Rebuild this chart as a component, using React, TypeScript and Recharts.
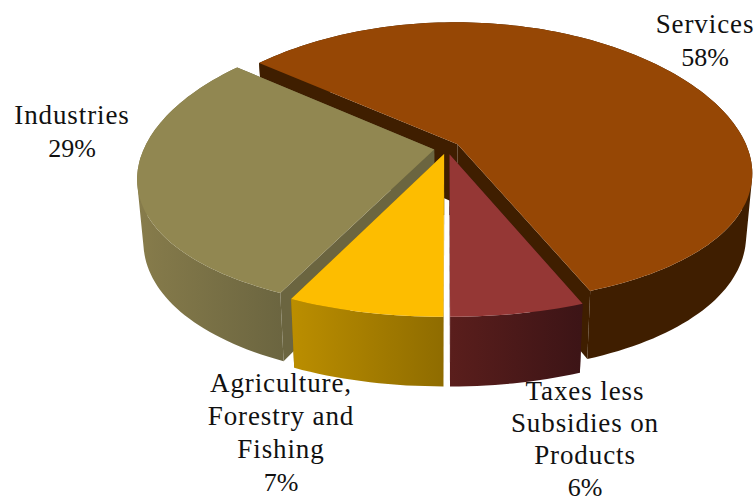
import { PieChart, Pie } from "recharts";

// drawn back to front, so the slices run counter-clockwise from Services
const names = ["Services", "Industries", "Agriculture, Forestry and Fishing", "Taxes less Subsidies on Products"];
const shares = [58, 29, 7, 6];

const topColors = ["#964705", "#918751", "#fdbd00", "#953735"];
const wallLeftColors = ["#3f1e00", "#877c4b", "#bb8e00", "#5a1e1c"];
const wallRightColors = ["#3f1e00", "#6b6540", "#8f6c00", "#3c1416"];
const cutColors = ["#3f1e00", "#6b6540", "#8f6c00", "#3c1416"];

const labelLines = [
  ["Services"],
  ["Industries"],
  ["Agriculture,", "Forestry and", "Fishing"],
  ["Taxes less", "Subsidies on", "Products"],
];
const labelCenterX = [705, 72, 281, 585];
const labelFirstBaseline = [33, 124, 392, 400];
const labelLeading = [33, 33, 33, 32];

const slices = names.map((name, i) => ({ name, value: shares[i] }));

// tilt and perspective of the disc
const SQUASH = 0.48;
const NEAR_X = 0.2;
const NEAR_Y = 0.133;
const EXPLODE = 0.045;
const DEPTH = 60;
const DEPTH_TAPER = 0.98;

type Pt = [number, number];

function makeProjector(cx: number, cy: number, radius: number, midAngle: number) {
  const rad = Math.PI / 180;
  const du = EXPLODE * Math.cos(midAngle * rad);
  const dv = -EXPLODE * Math.sin(midAngle * rad);
  const flat = (u: number, v: number, low: boolean): Pt => {
    const sx = 1 / (1 - NEAR_X * v);
    const sy = 1 / (1 - NEAR_Y * v);
    const x = radius * u * sx;
    const y = radius * SQUASH * v * sy;
    if (!low) return [cx + x, cy + y];
    return [cx + x * DEPTH_TAPER, cy + y + DEPTH * sy];
  };
  return {
    rim: (deg: number, low = false) =>
      flat(Math.cos(deg * rad) + du, -Math.sin(deg * rad) + dv, low),
    apex: (low = false) => flat(du, dv, low),
  };
}

const toPath = (pts: Pt[]) =>
  "M" + pts.map((p) => `${p[0].toFixed(1)},${p[1].toFixed(1)}`).join("L") + "Z";

// every strip wound the same way, so overlaps at the silhouette don't cancel
function stripPath(a: Pt, b: Pt, c: Pt, d: Pt) {
  const area =
    (b[0] - a[0]) * (c[1] - a[1]) - (c[0] - a[0]) * (b[1] - a[1]) +
    (c[0] - a[0]) * (d[1] - a[1]) - (d[0] - a[0]) * (c[1] - a[1]);
  return toPath(area >= 0 ? [a, b, c, d] : [d, c, b, a]);
}

function Wedge(props: any) {
  const { cx, cy, outerRadius, startAngle, endAngle, index } = props;
  const i = index ?? names.indexOf(props.name);
  const mid = (startAngle + endAngle) / 2;
  const proj = makeProjector(cx, cy, outerRadius, mid);

  const steps = Math.max(8, Math.ceil(Math.abs(endAngle - startAngle) / 1.5));
  const arcTop: Pt[] = [];
  const arcLow: Pt[] = [];
  for (let s = 0; s <= steps; s++) {
    const a = startAngle + ((endAngle - startAngle) * s) / steps;
    arcTop.push(proj.rim(a));
    arcLow.push(proj.rim(a, true));
  }

  let wall = "";
  for (let s = 0; s < steps; s++) {
    wall += stripPath(arcTop[s], arcTop[s + 1], arcLow[s + 1], arcLow[s]);
  }

  const xs = arcTop.concat(arcLow).map((p) => p[0]);
  const gradientId = `wall-${i}`;
  const quad = (deg: number) =>
    toPath([proj.apex(), proj.rim(deg), proj.rim(deg, true), proj.apex(true)]);

  return (
    <g>
      <defs>
        <linearGradient
          id={gradientId}
          gradientUnits="userSpaceOnUse"
          x1={Math.min(...xs)}
          x2={Math.max(...xs)}
          y1={0}
          y2={0}
        >
          <stop offset="0" stopColor={wallLeftColors[i]} />
          <stop offset="1" stopColor={wallRightColors[i]} />
        </linearGradient>
      </defs>
      <path d={quad(startAngle)} fill={cutColors[i]} />
      <path d={quad(endAngle)} fill={cutColors[i]} />
      <path d={wall} fill={`url(#${gradientId})`} />
      <path d={toPath([proj.apex(), ...arcTop])} fill={topColors[i]} />
    </g>
  );
}

function SliceLabel(props: any) {
  const i = props.index;
  const x = labelCenterX[i];
  const y = labelFirstBaseline[i];
  const lead = labelLeading[i];
  return (
    <text textAnchor="middle" fontFamily="'Liberation Serif', serif" fill="#111">
      {labelLines[i].map((line, n) => (
        <tspan key={n} x={x} y={y + n * lead} fontSize={27} letterSpacing={0.9}>
          {line}
        </tspan>
      ))}
      <tspan x={x} y={y + labelLines[i].length * lead} fontSize={26}>
        {shares[i]}%
      </tspan>
    </text>
  );
}

export default function App() {
  return (
    <div style={{ position: "absolute", left: 0, top: 0, width: 756, height: 502, background: "#fff" }}>
      <PieChart width={756} height={502} margin={{ top: 0, right: 0, bottom: 0, left: 0 }}>
        <Pie
          data={slices}
          dataKey="value"
          nameKey="name"
          cx={447}
          cy={148}
          innerRadius={0}
          outerRadius={290}
          startAngle={-68.4}
          endAngle={291.6}
          stroke="none"
          shape={Wedge}
          label={SliceLabel}
          labelLine={false}
          isAnimationActive={false}
        />
      </PieChart>
    </div>
  );
}
